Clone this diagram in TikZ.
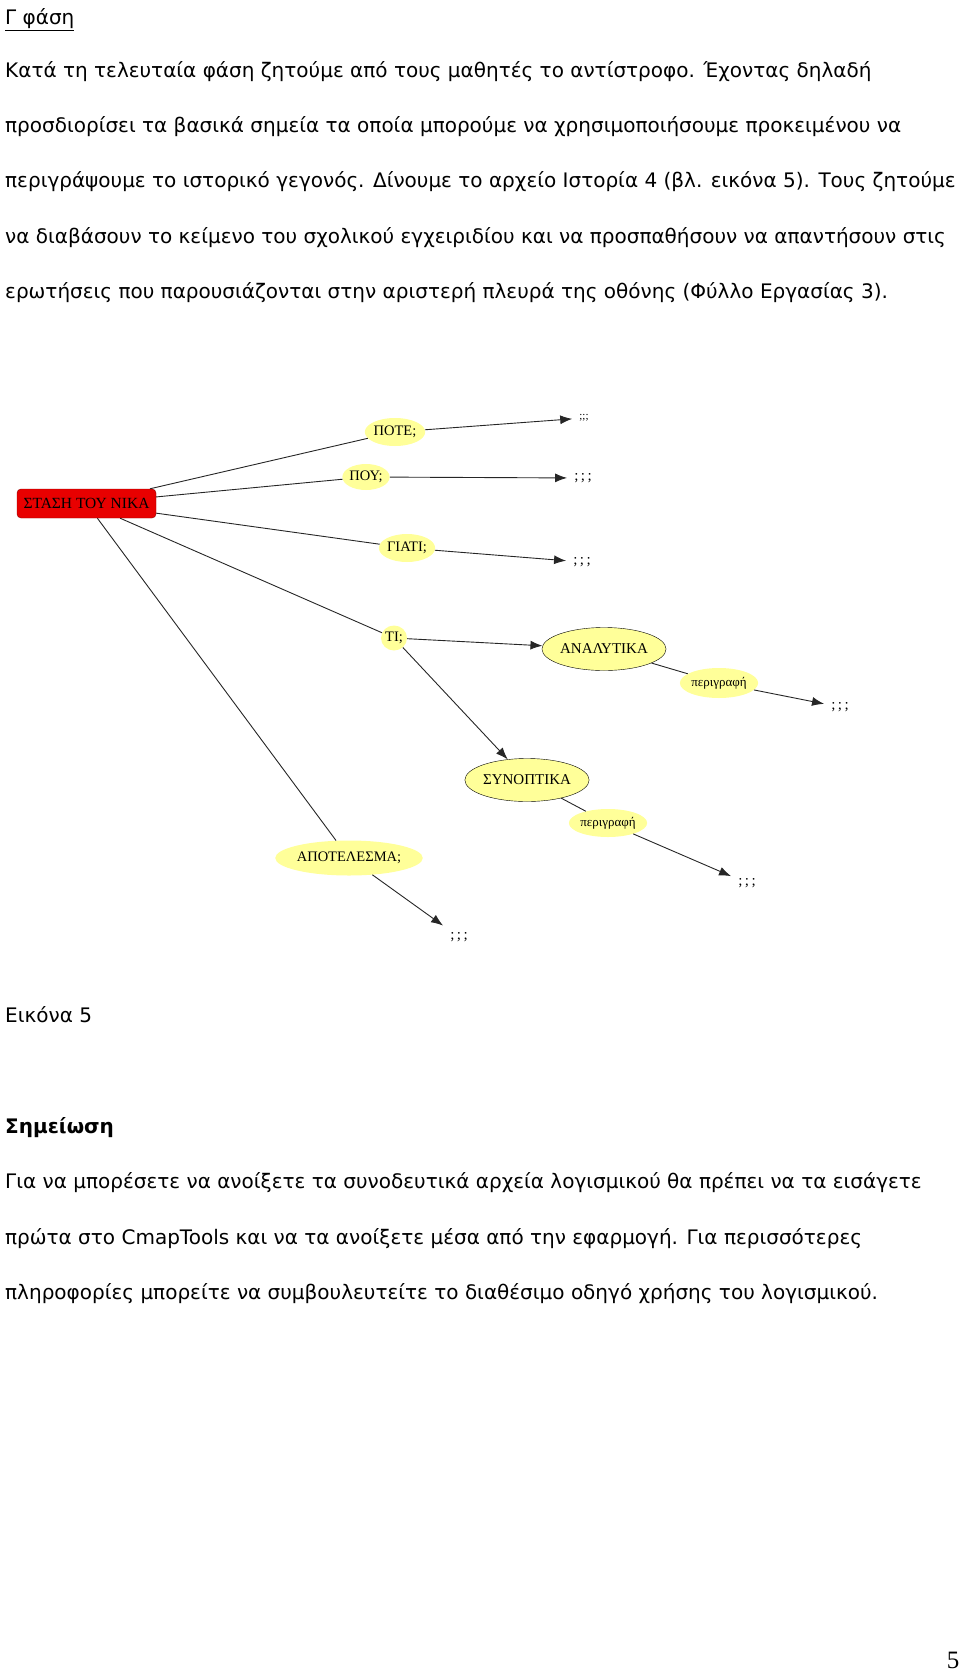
\documentclass[tikz,border=0pt]{standalone}
\usepackage{fontspec}
\setmainfont{DejaVu Sans}
\newfontfamily\mapfont{Liberation Serif}
\usetikzlibrary{shapes.geometric,arrows.meta}
\definecolor{mapyellow}{RGB}{255,255,153}
\definecolor{mapred}{RGB}{232,0,0}
\tikzset{
    page-line/.style = {anchor=base west, inner sep=0pt, font=\fontsize{20}{24}\selectfont},
    concept-box/.style = {draw=red!55!black, fill=mapred, rounded corners=4pt, minimum width=139pt, minimum height=29pt, inner sep=2pt, font=\mapfont\fontsize{15.5}{17}\selectfont},
    link-phrase/.style = {ellipse, fill=mapyellow, inner sep=0pt, font=\mapfont\fontsize{14.5}{16}\selectfont},
    concept-oval/.style = {ellipse, draw=black, fill=mapyellow, inner sep=0pt, minimum width=106pt, minimum height=43pt, font=\mapfont\fontsize{15}{16}\selectfont},
    open-end/.style = {inner sep=7pt, font=\mapfont\fontsize{15}{16}\selectfont},
    map-line/.style = {draw=black!85, line width=0.9pt},
    map-arrow/.style = {map-line, -{Latex[length=12pt,width=9pt]}},
}
\begin{document}
\begin{tikzpicture}[x=1pt, y=-1pt]
\useasboundingbox (0,0) rectangle (960,1672);
% text above the map
\node[page-line] (title) at (5,25) {\underline{Γ φάση}};
\node[page-line] (para-1) at (5,78) {Κατά τη τελευταία φάση ζητούμε από τους μαθητές το αντίστροφο. Έχοντας δηλαδή};
\node[page-line] (para-2) at (5,133) {προσδιορίσει τα βασικά σημεία τα οποία μπορούμε να χρησιμοποιήσουμε προκειμένου να};
\node[page-line] (para-3) at (5,188) {περιγράψουμε το ιστορικό γεγονός. Δίνουμε το αρχείο Ιστορία 4 (βλ. εικόνα 5). Τους ζητούμε};
\node[page-line] (para-4) at (5,243) {να διαβάσουν το κείμενο του σχολικού εγχειριδίου και να προσπαθήσουν να απαντήσουν στις};
\node[page-line] (para-5) at (5,298) {ερωτήσεις που παρουσιάζονται στην αριστερή πλευρά της οθόνης (Φύλλο Εργασίας 3).};

% the concept map
\node[concept-box] (stasi) at (86.5,503.5) {ΣΤΑΣΗ ΤΟΥ ΝΙΚΑ};
\node[link-phrase, minimum width=53pt, minimum height=28pt] (pote) at (395,432) {ΠΟΤΕ;};
\node[link-phrase, minimum width=45pt, minimum height=26pt] (pou) at (366,477) {ΠΟΥ;};
\node[link-phrase, minimum width=50pt, minimum height=28pt] (giati) at (407,548) {ΓΙΑΤΙ;};
\node[link-phrase, minimum width=26pt, minimum height=25pt] (ti) at (394,638) {ΤΙ;};
\node[link-phrase, minimum width=105pt, minimum height=35pt] (apotelesma) at (349,858) {ΑΠΟΤΕΛΕΣΜΑ;};
\node[concept-oval] (analytika) at (604,649) {ΑΝΑΛΥΤΙΚΑ};
\node[concept-oval] (synoptika) at (527,780) {ΣΥΝΟΠΤΙΚΑ};
\node[link-phrase, minimum width=66pt, minimum height=30pt, font=\mapfont\fontsize{13}{14}\selectfont] (perigrafi-a) at (719,683) {περιγραφή};
\node[link-phrase, minimum width=68pt, minimum height=28pt, font=\mapfont\fontsize{13}{14}\selectfont] (perigrafi-s) at (608,823) {περιγραφή};
\node[open-end, font=\mapfont\fontsize{11}{12}\selectfont] (end-pote) at (584,418) {;;;};
\node[open-end] (end-pou) at (583,478) {;\,;\,;};
\node[open-end] (end-giati) at (582,562) {;\,;\,;};
\node[open-end] (end-analytika) at (840,707) {;\,;\,;};
\node[open-end] (end-synoptika) at (747,883) {;\,;\,;};
\node[open-end] (end-apotelesma) at (459,937) {;\,;\,;};

\draw[map-line] (stasi) -- (pote);
\draw[map-line] (stasi) -- (pou);
\draw[map-line] (stasi) -- (giati);
\draw[map-line] (stasi) -- (ti);
\draw[map-line] (stasi) -- (apotelesma);
\draw[map-arrow] (pote) -- (end-pote);
\draw[map-arrow] (pou) -- (end-pou);
\draw[map-arrow] (giati) -- (end-giati);
\draw[map-arrow] (ti) -- (analytika);
\draw[map-arrow] (ti) -- (synoptika);
\draw[map-line] (analytika) -- (perigrafi-a);
\draw[map-arrow] (perigrafi-a) -- (end-analytika);
\draw[map-line] (synoptika) -- (perigrafi-s);
\draw[map-arrow] (perigrafi-s) -- (end-synoptika);
\draw[map-arrow] (apotelesma) -- (end-apotelesma);

% text below the map
\node[page-line] (caption) at (5,1022) {Εικόνα 5};
\node[page-line, font=\bfseries\fontsize{20}{24}\selectfont] (note-title) at (5,1133) {Σημείωση};
\node[page-line] (note-1) at (5,1188) {Για να μπορέσετε να ανοίξετε τα συνοδευτικά αρχεία λογισμικού θα πρέπει να τα εισάγετε};
\node[page-line] (note-2) at (5,1244) {πρώτα στο CmapTools και να τα ανοίξετε μέσα από την εφαρμογή. Για περισσότερες};
\node[page-line] (note-3) at (5,1299) {πληροφορίες μπορείτε να συμβουλευτείτε το διαθέσιμο οδηγό χρήσης του λογισμικού.};
\node[anchor=base, inner sep=0pt, font=\mapfont\fontsize{25}{28}\selectfont] (page-no) at (953,1668) {5};
\end{tikzpicture}
\end{document}
